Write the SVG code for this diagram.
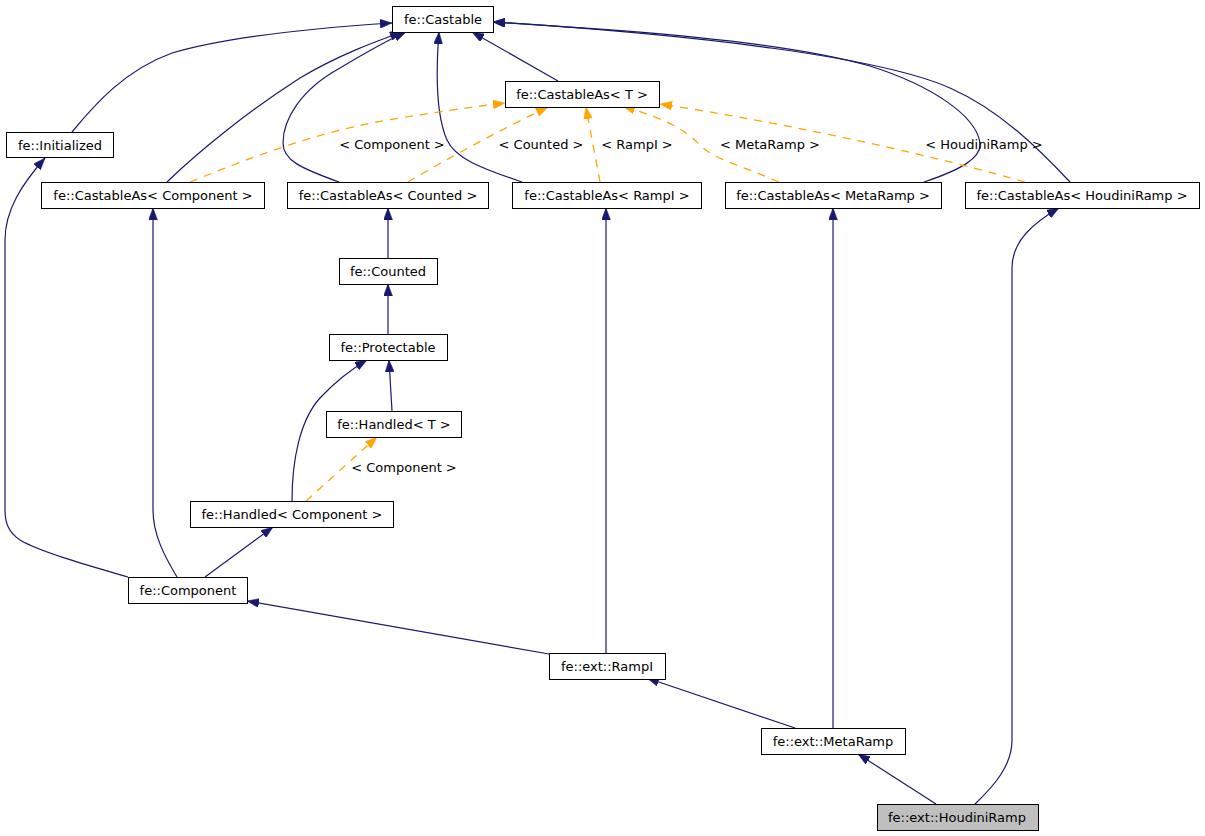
<svg xmlns="http://www.w3.org/2000/svg" width="1205" height="836" viewBox="0 0 1205 836">
<style>
.n rect{fill:#fff;stroke:#000;stroke-width:1}
.n text{font-family:"DejaVu Sans",sans-serif;font-size:13px;text-anchor:middle;fill:#000}
.e{fill:none;stroke:#191970;stroke-width:1.2;marker-end:url(#an)}
.d{fill:none;stroke:#ffa500;stroke-width:1.3;stroke-dasharray:8,7;marker-end:url(#ao)}
.l{font-family:"DejaVu Sans",sans-serif;font-size:13px;text-anchor:middle;fill:#000}
</style>
<defs>
<marker id="an" markerUnits="userSpaceOnUse" markerWidth="12" markerHeight="9" refX="12" refY="4.5" orient="auto"><path d="M0,0 L12,4.5 L0,9 z" fill="#191970" stroke="#191970" stroke-width="0.5"/></marker>
<marker id="ao" markerUnits="userSpaceOnUse" markerWidth="12" markerHeight="9" refX="12" refY="4.5" orient="auto"><path d="M0,0 L12,4.5 L0,9 z" fill="#ffa500" stroke="#ffa500" stroke-width="0.5"/></marker>
</defs>
<rect width="1205" height="836" fill="#fff"/>
<g id="edges">
<path class="e" d="M72,132 C95,104 125,70 172,53 C230,36 330,27 392,23"/>
<path class="e" d="M167,182 C200,150 250,110 300,78 C340,54 380,40 402,32"/>
<path class="e" d="M339,182 C300,168 283,160 283,143 C283,120 300,90 340,68 C365,53 388,40 406,32"/>
<path class="e" d="M522,182 C480,168 455,158 447,140 C436,115 436,70 439,32"/>
<path class="e" d="M558,81 L472,32"/>
<path class="e" d="M924,182 C960,170 982,158 980,143 C976,115 930,85 870,66 C780,40 620,30 493,22"/>
<path class="e" d="M1070,182 C1040,150 1000,110 950,88 C880,57 700,35 493,22"/>
<path class="d" d="M190,182 C250,158 320,130 400,118 C450,110 480,106 505,103"/>
<path class="d" d="M408,182 C445,160 500,130 548,107"/>
<path class="d" d="M600,182 C596,160 590,130 586,107"/>
<path class="d" d="M779,182 C740,165 715,160 700,145 C680,125 660,118 623,106"/>
<path class="d" d="M1025,182 C950,160 800,125 660,104"/>
<path class="e" d="M388,258 L388,208"/>
<path class="e" d="M388,334 L388,284"/>
<path class="e" d="M392,411 L389,360"/>
<path class="e" d="M292,501 C292,460 300,420 320,398 C335,382 350,370 367,360"/>
<path class="d" d="M306,501 L377,437"/>
<path class="e" d="M205,577 L273,527"/>
<path class="e" d="M128,577 C90,566 40,552 20,540 C8,532 5,522 5,510 L5,240 C5,210 22,184 45,158"/>
<path class="e" d="M177,577 C165,557 153,535 153,510 L153,208"/>
<path class="e" d="M549,654 L247,601"/>
<path class="e" d="M606,653 L606,208"/>
<path class="e" d="M795,728 L647,678"/>
<path class="e" d="M833,728 L833,208"/>
<path class="e" d="M936,804 L858,754"/>
<path class="e" d="M975,804 C995,785 1012,765 1012,740 L1012,268 C1012,240 1035,222 1059,208"/>
<text class="l" x="392" y="149">&lt; Component &gt;</text>
<text class="l" x="541" y="149">&lt; Counted &gt;</text>
<text class="l" x="637" y="149">&lt; RampI &gt;</text>
<text class="l" x="770" y="149">&lt; MetaRamp &gt;</text>
<text class="l" x="984" y="149">&lt; HoudiniRamp &gt;</text>
<text class="l" x="404" y="472">&lt; Component &gt;</text>
</g>
<g id="n_castable" class="n"><rect x="392.5" y="6.5" width="101" height="26"/><text x="443" y="24">fe::Castable</text></g>
<g id="n_castableas_t" class="n"><rect x="505.5" y="81.5" width="154" height="26"/><text x="582" y="99">fe::CastableAs&lt; T &gt;</text></g>
<g id="n_initialized" class="n"><rect x="6.5" y="132.5" width="107" height="25"/><text x="60" y="150">fe::Initialized</text></g>
<g id="n_ca_component" class="n"><rect x="41.5" y="182.5" width="223" height="26"/><text x="153" y="200">fe::CastableAs&lt; Component &gt;</text></g>
<g id="n_ca_counted" class="n"><rect x="287.5" y="182.5" width="201" height="26"/><text x="388" y="200">fe::CastableAs&lt; Counted &gt;</text></g>
<g id="n_ca_rampi" class="n"><rect x="512.5" y="182.5" width="189" height="26"/><text x="607" y="200">fe::CastableAs&lt; RampI &gt;</text></g>
<g id="n_ca_metaramp" class="n"><rect x="725.5" y="182.5" width="216" height="26"/><text x="833" y="200">fe::CastableAs&lt; MetaRamp &gt;</text></g>
<g id="n_ca_houdiniramp" class="n"><rect x="965.5" y="182.5" width="234" height="26"/><text x="1082" y="200">fe::CastableAs&lt; HoudiniRamp &gt;</text></g>
<g id="n_counted" class="n"><rect x="339.5" y="258.5" width="98" height="26"/><text x="388" y="276">fe::Counted</text></g>
<g id="n_protectable" class="n"><rect x="329.5" y="334.5" width="118" height="26"/><text x="388" y="352">fe::Protectable</text></g>
<g id="n_handled_t" class="n"><rect x="326.5" y="411.5" width="135" height="26"/><text x="394" y="429">fe::Handled&lt; T &gt;</text></g>
<g id="n_handled_component" class="n"><rect x="190.5" y="501.5" width="203" height="26"/><text x="292" y="519">fe::Handled&lt; Component &gt;</text></g>
<g id="n_component" class="n"><rect x="128.5" y="577.5" width="119" height="26"/><text x="188" y="595">fe::Component</text></g>
<g id="n_rampi" class="n"><rect x="549.5" y="653.5" width="116" height="26"/><text x="607" y="671">fe::ext::RampI</text></g>
<g id="n_metaramp" class="n"><rect x="761.5" y="728.5" width="144" height="26"/><text x="833" y="746">fe::ext::MetaRamp</text></g>
<g id="n_houdiniramp" class="n"><rect x="877.5" y="804.5" width="161" height="26" style="fill:#bfbfbf"/><text x="957" y="822">fe::ext::HoudiniRamp</text></g>
</svg>
